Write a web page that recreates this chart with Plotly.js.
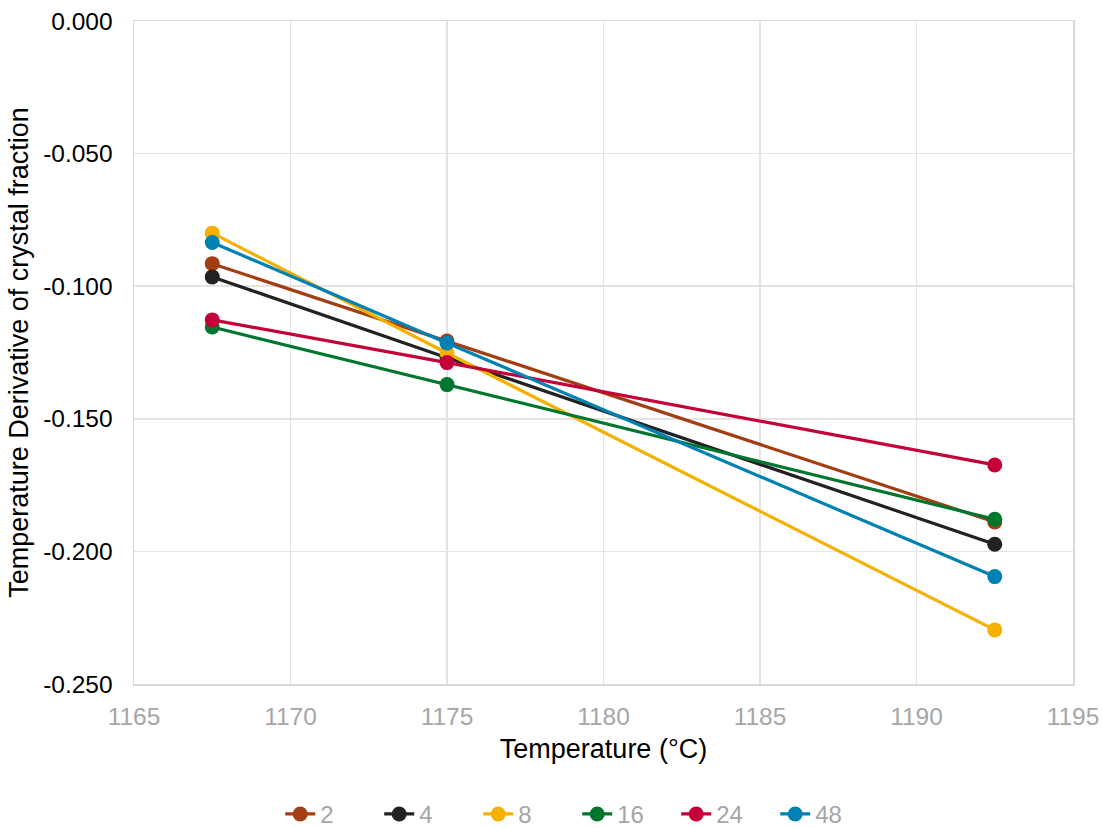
<!DOCTYPE html>
<html>
<head>
<meta charset="utf-8">
<script src="https://cdn.plot.ly/plotly-3.0.1.min.js"></script>
<style>html,body{margin:0;padding:0;background:#fff}#chart{width:1102px;height:828px}</style>
</head>
<body>
<div id="chart"></div>
<script>
const temperature = [1167.5, 1175, 1192.5];
const seriesNames = ['2', '4', '8', '16', '24', '48'];
const s2  = [-0.0915, -0.1207, -0.1889];
const s4  = [-0.0965, -0.1270, -0.1973];
const s8  = [-0.0800, -0.1252, -0.2296];
const s16 = [-0.1154, -0.1371, -0.1879];
const s24 = [-0.1127, -0.1288, -0.1674];
const s48 = [-0.0835, -0.1214, -0.2095];
const seriesValues = [s2, s4, s8, s16, s24, s48];
const yTickVals = [0, -0.05, -0.1, -0.15, -0.2, -0.25];
const yTickLabels = ['0.000', '-0.050', '-0.100', '-0.150', '-0.200', '-0.250'];
const colors = ['#A33D12', '#222222', '#F5B000', '#00762E', '#C40039', '#0081B3'];

const traces = seriesNames.map((name, i) => ({
  x: temperature,
  y: seriesValues[i],
  name: name,
  type: 'scatter',
  mode: 'lines+markers',
  line: {color: colors[i], width: 3.2},
  marker: {color: colors[i], size: 15}
}));

const font = 'Liberation Sans, Arial, sans-serif';
const layout = {
  width: 1102, height: 828,
  margin: {l: 134, r: 29, t: 21, b: 144},
  paper_bgcolor: '#fff', plot_bgcolor: '#fff',
  font: {family: font, size: 24, color: '#000'},
  showlegend: true,
  legend: {orientation: 'h', x: 0.472, xanchor: 'center', xref: 'paper',
           yref: 'container', y: 0.0165, yanchor: 'middle',
           font: {family: font, size: 24, color: '#A6A6A6'},
           itemwidth: 30, entrywidth: 54, entrywidthmode: 'pixels'},
  xaxis: {
    range: [1165, 1195], dtick: 5, tick0: 1165,
    showgrid: true, gridcolor: '#E3E3E3', gridwidth: 1.5,
    showline: true, mirror: true, linecolor: '#D9D9D9', linewidth: 1.5,
    zeroline: false,
    ticks: 'outside', ticklen: 10, tickcolor: 'rgba(0,0,0,0)',
    tickfont: {family: font, size: 24.5, color: '#A6A6A6'},
    title: {text: 'Temperature (°C)', font: {family: font, size: 27, color: '#000'}, standoff: 10}
  },
  yaxis: {
    range: [-0.25, 0], tickmode: 'array', tickvals: yTickVals, ticktext: yTickLabels,
    showgrid: true, gridcolor: '#E3E3E3', gridwidth: 1.5,
    showline: true, mirror: true, linecolor: '#D9D9D9', linewidth: 1.5,
    zeroline: false,
    ticks: 'outside', ticklen: 15, tickcolor: 'rgba(0,0,0,0)',
    tickfont: {family: font, size: 24.5, color: '#000'},
    title: {text: 'Temperature Derivative of crystal fraction', font: {family: font, size: 27, color: '#000'}, standoff: 6}
  }
};

Plotly.newPlot('chart', traces, layout, {displayModeBar: false, staticPlot: true});
</script>
</body>
</html>
